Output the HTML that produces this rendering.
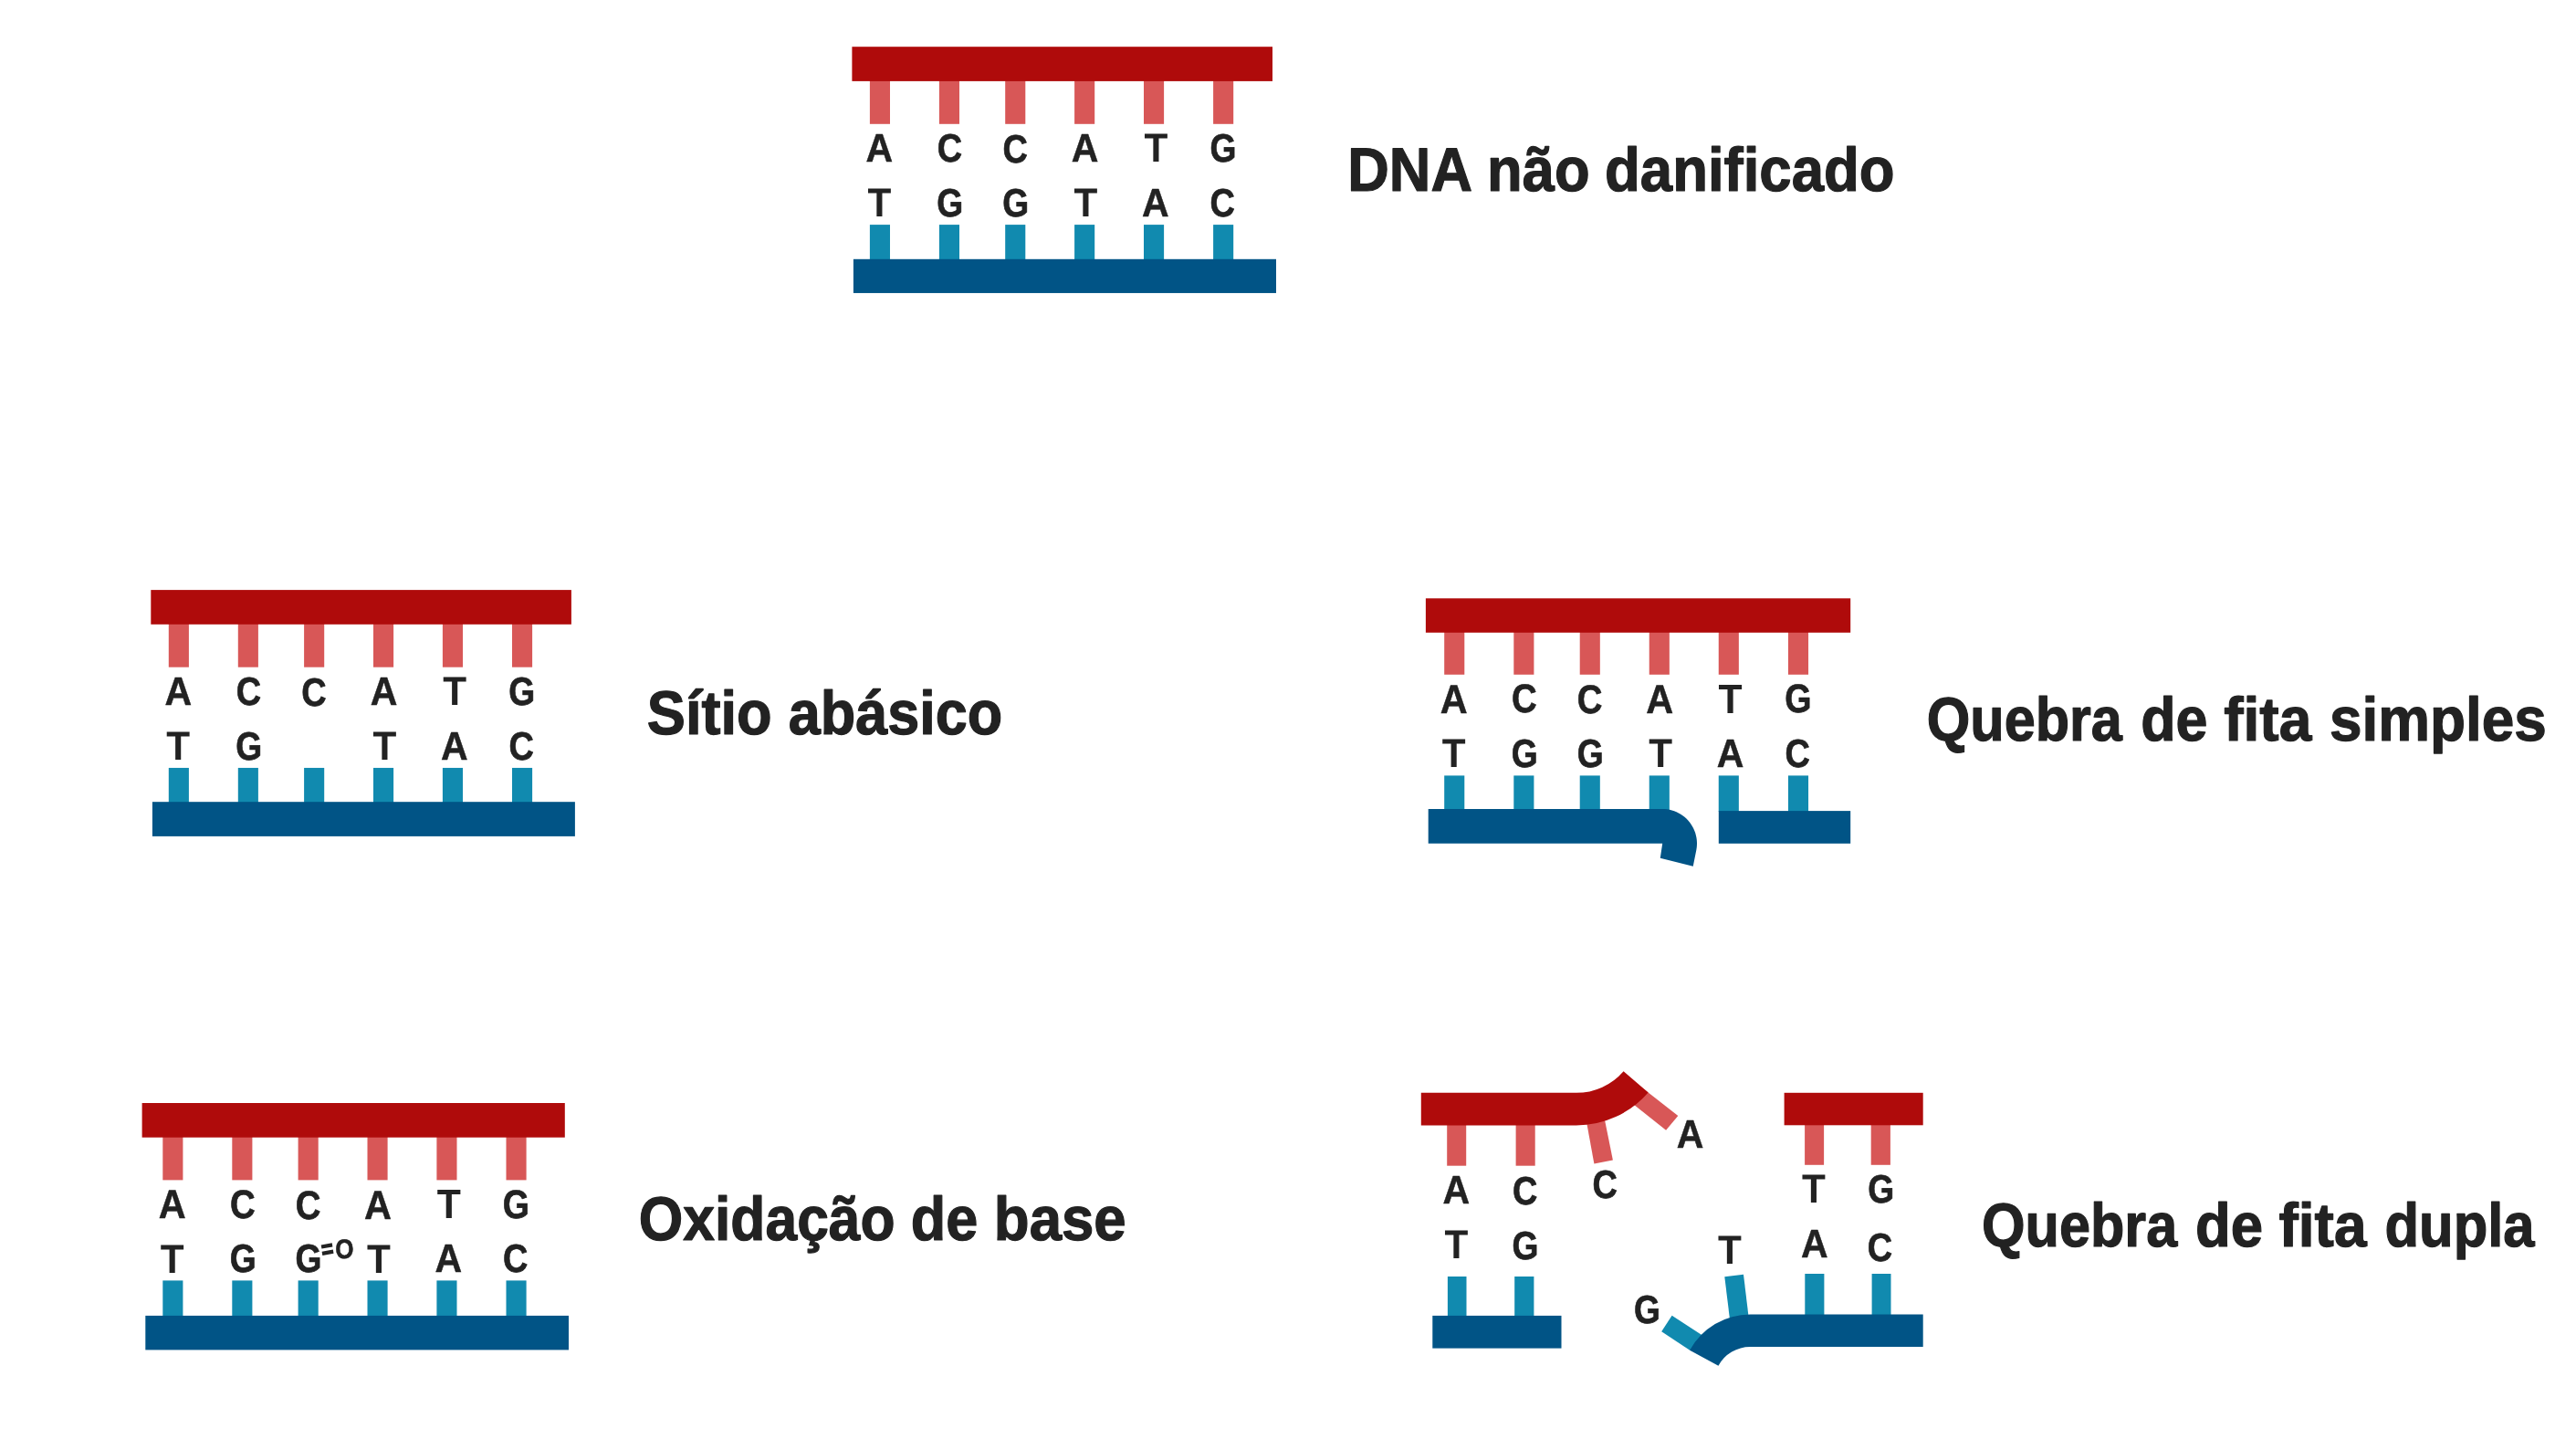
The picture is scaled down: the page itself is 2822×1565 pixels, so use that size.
<!DOCTYPE html>
<html lang="pt"><head><meta charset="utf-8"><title>Tipos de dano no DNA</title>
<style>
html,body{margin:0;padding:0;background:#fff;}
body{width:2822px;height:1565px;overflow:hidden;}
svg{display:block;will-change:transform;}
text{font-family:"Liberation Sans",sans-serif;font-weight:700;fill:#222222;stroke:#222222;stroke-linejoin:round;text-rendering:geometricPrecision;}
</style></head><body>
<svg width="2822" height="1565" viewBox="0 0 2822 1565">
<rect x="0" y="0" width="2822" height="1565" fill="#ffffff"/>
<rect x="952.90" y="87.90" width="22.10" height="47.90" fill="#D85757"/>
<rect x="952.90" y="246.10" width="22.10" height="38.70" fill="#118AAF"/>
<rect x="1028.90" y="87.90" width="22.10" height="47.90" fill="#D85757"/>
<rect x="1028.90" y="246.10" width="22.10" height="38.70" fill="#118AAF"/>
<rect x="1101.20" y="87.90" width="22.10" height="47.90" fill="#D85757"/>
<rect x="1101.20" y="246.10" width="22.10" height="38.70" fill="#118AAF"/>
<rect x="1177.10" y="87.90" width="22.10" height="47.90" fill="#D85757"/>
<rect x="1177.10" y="246.10" width="22.10" height="38.70" fill="#118AAF"/>
<rect x="1253.00" y="87.90" width="22.10" height="47.90" fill="#D85757"/>
<rect x="1253.00" y="246.10" width="22.10" height="38.70" fill="#118AAF"/>
<rect x="1329.10" y="87.90" width="22.10" height="47.90" fill="#D85757"/>
<rect x="1329.10" y="246.10" width="22.10" height="38.70" fill="#118AAF"/>
<rect x="933.40" y="51.20" width="460.60" height="37.70" fill="#AF0B0B"/>
<rect x="934.90" y="283.80" width="463.10" height="37.15" fill="#015486"/>
<text transform="translate(963.35,176.95) rotate(0.02) scale(0.9411,1)" x="-15.71" y="0" font-size="43.6" stroke-width="0.5">A</text>
<text transform="translate(1040.70,176.85) rotate(0.02) scale(0.8754,1)" x="-15.93" y="0" font-size="43.31" stroke-width="0.7">C</text>
<text transform="translate(1112.40,177.75) rotate(0.02) scale(0.8754,1)" x="-15.93" y="0" font-size="43.31" stroke-width="0.7">C</text>
<text transform="translate(1188.60,177.35) rotate(0.02) scale(0.9411,1)" x="-15.71" y="0" font-size="43.6" stroke-width="0.5">A</text>
<text transform="translate(1266.30,177.20) rotate(0.02) scale(0.9539,1)" x="-13.55" y="0" font-size="44.33" stroke-width="0.0">T</text>
<text transform="translate(1339.50,176.85) rotate(0.02) scale(0.8588,1)" x="-16.39" y="0" font-size="43.31" stroke-width="0.7">G</text>
<text transform="translate(963.30,237.00) rotate(0.02) scale(0.9539,1)" x="-13.55" y="0" font-size="44.33" stroke-width="0.0">T</text>
<text transform="translate(1040.30,236.65) rotate(0.02) scale(0.8588,1)" x="-16.39" y="0" font-size="43.31" stroke-width="0.7">G</text>
<text transform="translate(1112.20,236.65) rotate(0.02) scale(0.8588,1)" x="-16.39" y="0" font-size="43.31" stroke-width="0.7">G</text>
<text transform="translate(1189.50,237.00) rotate(0.02) scale(0.9539,1)" x="-13.55" y="0" font-size="44.33" stroke-width="0.0">T</text>
<text transform="translate(1265.80,236.75) rotate(0.02) scale(0.9411,1)" x="-15.71" y="0" font-size="43.6" stroke-width="0.5">A</text>
<text transform="translate(1339.50,236.65) rotate(0.02) scale(0.8754,1)" x="-15.93" y="0" font-size="43.31" stroke-width="0.7">C</text>
<rect x="184.80" y="682.80" width="22.10" height="47.90" fill="#D85757"/>
<rect x="184.80" y="840.95" width="22.10" height="38.25" fill="#118AAF"/>
<rect x="260.80" y="682.80" width="22.10" height="47.90" fill="#D85757"/>
<rect x="260.80" y="840.95" width="22.10" height="38.25" fill="#118AAF"/>
<rect x="333.10" y="682.80" width="22.10" height="47.90" fill="#D85757"/>
<rect x="333.10" y="840.95" width="22.10" height="38.25" fill="#118AAF"/>
<rect x="409.00" y="682.80" width="22.10" height="47.90" fill="#D85757"/>
<rect x="409.00" y="840.95" width="22.10" height="38.25" fill="#118AAF"/>
<rect x="484.90" y="682.80" width="22.10" height="47.90" fill="#D85757"/>
<rect x="484.90" y="840.95" width="22.10" height="38.25" fill="#118AAF"/>
<rect x="561.00" y="682.80" width="22.10" height="47.90" fill="#D85757"/>
<rect x="561.00" y="840.95" width="22.10" height="38.25" fill="#118AAF"/>
<rect x="165.30" y="646.10" width="460.60" height="37.70" fill="#AF0B0B"/>
<rect x="166.90" y="878.20" width="463.00" height="37.70" fill="#015486"/>
<text transform="translate(195.25,771.85) rotate(0.02) scale(0.9411,1)" x="-15.71" y="0" font-size="43.6" stroke-width="0.5">A</text>
<text transform="translate(272.60,771.75) rotate(0.02) scale(0.8754,1)" x="-15.93" y="0" font-size="43.31" stroke-width="0.7">C</text>
<text transform="translate(344.30,772.65) rotate(0.02) scale(0.8754,1)" x="-15.93" y="0" font-size="43.31" stroke-width="0.7">C</text>
<text transform="translate(420.50,772.25) rotate(0.02) scale(0.9411,1)" x="-15.71" y="0" font-size="43.6" stroke-width="0.5">A</text>
<text transform="translate(498.20,772.10) rotate(0.02) scale(0.9539,1)" x="-13.55" y="0" font-size="44.33" stroke-width="0.0">T</text>
<text transform="translate(571.40,771.75) rotate(0.02) scale(0.8588,1)" x="-16.39" y="0" font-size="43.31" stroke-width="0.7">G</text>
<text transform="translate(195.20,831.90) rotate(0.02) scale(0.9539,1)" x="-13.55" y="0" font-size="44.33" stroke-width="0.0">T</text>
<text transform="translate(272.20,831.55) rotate(0.02) scale(0.8588,1)" x="-16.39" y="0" font-size="43.31" stroke-width="0.7">G</text>
<text transform="translate(421.40,831.90) rotate(0.02) scale(0.9539,1)" x="-13.55" y="0" font-size="44.33" stroke-width="0.0">T</text>
<text transform="translate(497.70,831.65) rotate(0.02) scale(0.9411,1)" x="-15.71" y="0" font-size="43.6" stroke-width="0.5">A</text>
<text transform="translate(571.40,831.55) rotate(0.02) scale(0.8754,1)" x="-15.93" y="0" font-size="43.31" stroke-width="0.7">C</text>
<rect x="178.30" y="1244.70" width="22.10" height="47.70" fill="#D85757"/>
<rect x="178.30" y="1402.40" width="22.10" height="39.50" fill="#118AAF"/>
<rect x="254.30" y="1244.70" width="22.10" height="47.70" fill="#D85757"/>
<rect x="254.30" y="1402.40" width="22.10" height="39.50" fill="#118AAF"/>
<rect x="326.60" y="1244.70" width="22.10" height="47.70" fill="#D85757"/>
<rect x="326.60" y="1402.40" width="22.10" height="39.50" fill="#118AAF"/>
<rect x="402.50" y="1244.70" width="22.10" height="47.70" fill="#D85757"/>
<rect x="402.50" y="1402.40" width="22.10" height="39.50" fill="#118AAF"/>
<rect x="478.40" y="1244.70" width="22.10" height="47.70" fill="#D85757"/>
<rect x="478.40" y="1402.40" width="22.10" height="39.50" fill="#118AAF"/>
<rect x="554.50" y="1244.70" width="22.10" height="47.70" fill="#D85757"/>
<rect x="554.50" y="1402.40" width="22.10" height="39.50" fill="#118AAF"/>
<rect x="155.60" y="1208.00" width="463.20" height="37.70" fill="#AF0B0B"/>
<rect x="159.30" y="1440.90" width="463.70" height="37.50" fill="#015486"/>
<text transform="translate(188.75,1334.20) rotate(0.02) scale(0.9347,1)" x="-15.99" y="0" font-size="44.36" stroke-width="0.5">A</text>
<text transform="translate(266.10,1334.10) rotate(0.02) scale(0.8694,1)" x="-16.21" y="0" font-size="44.07" stroke-width="0.7">C</text>
<text transform="translate(337.80,1335.00) rotate(0.02) scale(0.8694,1)" x="-16.21" y="0" font-size="44.07" stroke-width="0.7">C</text>
<text transform="translate(414.00,1334.60) rotate(0.02) scale(0.9347,1)" x="-15.99" y="0" font-size="44.36" stroke-width="0.5">A</text>
<text transform="translate(491.70,1334.45) rotate(0.02) scale(0.9473,1)" x="-13.78" y="0" font-size="45.09" stroke-width="0.0">T</text>
<text transform="translate(564.90,1334.10) rotate(0.02) scale(0.8529,1)" x="-16.68" y="0" font-size="44.07" stroke-width="0.7">G</text>
<text transform="translate(188.70,1393.55) rotate(0.02) scale(0.9539,1)" x="-13.55" y="0" font-size="44.33" stroke-width="0.0">T</text>
<text transform="translate(265.70,1393.20) rotate(0.02) scale(0.8588,1)" x="-16.39" y="0" font-size="43.31" stroke-width="0.7">G</text>
<text transform="translate(337.60,1393.20) rotate(0.02) scale(0.8588,1)" x="-16.39" y="0" font-size="43.31" stroke-width="0.7">G</text>
<text transform="translate(414.90,1393.55) rotate(0.02) scale(0.9539,1)" x="-13.55" y="0" font-size="44.33" stroke-width="0.0">T</text>
<text transform="translate(491.20,1393.30) rotate(0.02) scale(0.9411,1)" x="-15.71" y="0" font-size="43.6" stroke-width="0.5">A</text>
<text transform="translate(564.90,1393.20) rotate(0.02) scale(0.8754,1)" x="-15.93" y="0" font-size="43.31" stroke-width="0.7">C</text>
<polygon points="351.70,1363.40 363.70,1361.30 364.40,1365.50 352.40,1367.60" fill="#222222"/>
<polygon points="352.60,1370.80 364.80,1368.60 365.50,1372.80 353.30,1375.00" fill="#222222"/>
<text transform="translate(377.40,1378.30) rotate(0.02) scale(0.8773,1)" x="-11.52" y="0" font-size="29.65" stroke-width="0.6">O</text>
<rect x="1582.20" y="691.80" width="22.10" height="47.00" fill="#D85757"/>
<rect x="1582.20" y="849.40" width="22.10" height="37.60" fill="#118AAF"/>
<rect x="1658.31" y="691.80" width="22.10" height="47.00" fill="#D85757"/>
<rect x="1658.31" y="849.40" width="22.10" height="37.60" fill="#118AAF"/>
<rect x="1730.72" y="691.80" width="22.10" height="47.00" fill="#D85757"/>
<rect x="1730.72" y="849.40" width="22.10" height="37.60" fill="#118AAF"/>
<rect x="1806.74" y="691.80" width="22.10" height="47.00" fill="#D85757"/>
<rect x="1806.74" y="849.40" width="22.10" height="40.60" fill="#118AAF"/>
<rect x="1882.75" y="691.80" width="22.10" height="47.00" fill="#D85757"/>
<rect x="1882.75" y="849.40" width="22.10" height="39.60" fill="#118AAF"/>
<rect x="1958.96" y="691.80" width="22.10" height="47.00" fill="#D85757"/>
<rect x="1958.96" y="849.40" width="22.10" height="39.60" fill="#118AAF"/>
<rect x="1561.90" y="655.30" width="465.30" height="37.50" fill="#AF0B0B"/>
<text transform="translate(1592.65,780.55) rotate(0.02) scale(0.9347,1)" x="-15.99" y="0" font-size="44.36" stroke-width="0.5">A</text>
<text transform="translate(1670.11,780.45) rotate(0.02) scale(0.8694,1)" x="-16.21" y="0" font-size="44.07" stroke-width="0.7">C</text>
<text transform="translate(1741.92,781.35) rotate(0.02) scale(0.8694,1)" x="-16.21" y="0" font-size="44.07" stroke-width="0.7">C</text>
<text transform="translate(1818.24,780.95) rotate(0.02) scale(0.9347,1)" x="-15.99" y="0" font-size="44.36" stroke-width="0.5">A</text>
<text transform="translate(1895.55,780.80) rotate(0.02) scale(0.9473,1)" x="-13.78" y="0" font-size="45.09" stroke-width="0.0">T</text>
<text transform="translate(1969.36,780.45) rotate(0.02) scale(0.8529,1)" x="-16.68" y="0" font-size="44.07" stroke-width="0.7">G</text>
<text transform="translate(1592.60,839.95) rotate(0.02) scale(0.9539,1)" x="-13.55" y="0" font-size="44.33" stroke-width="0.0">T</text>
<text transform="translate(1669.71,839.60) rotate(0.02) scale(0.8588,1)" x="-16.39" y="0" font-size="43.31" stroke-width="0.7">G</text>
<text transform="translate(1741.72,839.60) rotate(0.02) scale(0.8588,1)" x="-16.39" y="0" font-size="43.31" stroke-width="0.7">G</text>
<text transform="translate(1819.14,839.95) rotate(0.02) scale(0.9539,1)" x="-13.55" y="0" font-size="44.33" stroke-width="0.0">T</text>
<text transform="translate(1895.55,839.70) rotate(0.02) scale(0.9411,1)" x="-15.71" y="0" font-size="43.6" stroke-width="0.5">A</text>
<text transform="translate(1969.36,839.60) rotate(0.02) scale(0.8754,1)" x="-15.93" y="0" font-size="43.31" stroke-width="0.7">C</text>
<polygon points="1564.70,886.00 1821.20,886.00 1821.20,886.00 1823.84,886.09 1826.46,886.37 1829.06,886.83 1831.62,887.46 1834.13,888.28 1836.57,889.27 1838.95,890.42 1841.23,891.74 1843.42,893.22 1845.50,894.84 1847.46,896.61 1849.29,898.51 1850.99,900.53 1852.54,902.66 1853.94,904.90 1855.17,907.23 1856.25,909.64 1857.15,912.12 1857.88,914.66 1858.43,917.24 1858.79,919.85 1858.98,922.48 1858.98,925.12 1858.79,927.75 1858.43,930.36 1858.31,931.01 1854.75,948.80 1818.80,939.80 1821.20,923.80 1564.70,923.80" fill="#015486"/>
<rect x="1882.80" y="888.10" width="144.40" height="35.70" fill="#015486"/>
<rect x="1585.20" y="1231.00" width="21.00" height="45.70" fill="#D85757"/>
<rect x="1660.60" y="1231.00" width="21.10" height="45.70" fill="#D85757"/>
<polygon points="1737.19,1224.04 1756.69,1219.94 1766.90,1270.60 1746.40,1274.60" fill="#D85757"/>
<polygon points="1785.11,1206.05 1799.26,1191.45 1838.30,1221.90 1825.10,1237.80" fill="#D85757"/>
<path d="M1556.8,1214.7 H1726.8 A86.3,86.3 0 0 0 1792.1,1184.8" fill="none" stroke="#AF0B0B" stroke-width="35.7"/>
<rect x="1977.10" y="1231.00" width="21.00" height="44.80" fill="#D85757"/>
<rect x="2049.70" y="1231.00" width="21.20" height="44.80" fill="#D85757"/>
<rect x="1954.60" y="1196.80" width="152.10" height="35.50" fill="#AF0B0B"/>
<rect x="1585.90" y="1398.00" width="20.60" height="44.00" fill="#118AAF"/>
<rect x="1659.20" y="1398.00" width="21.20" height="44.00" fill="#118AAF"/>
<rect x="1569.30" y="1440.90" width="141.20" height="35.70" fill="#015486"/>
<rect x="1977.30" y="1395.00" width="21.10" height="46.00" fill="#118AAF"/>
<rect x="2050.60" y="1395.00" width="20.90" height="46.00" fill="#118AAF"/>
<polygon points="1895.61,1449.94 1916.16,1447.04 1910.00,1395.70 1889.30,1398.20" fill="#118AAF"/>
<polygon points="1820.20,1458.20 1831.60,1440.75 1870.00,1465.65 1858.00,1480.60 1851.20,1478.80" fill="#118AAF"/>
<path d="M2106.7,1457.2 H1917.4 A57.6,57.6 0 0 0 1866.8,1487.25" fill="none" stroke="#015486" stroke-width="35.65"/>
<text transform="translate(1595.40,1318.05) rotate(0.02) scale(0.9411,1)" x="-15.71" y="0" font-size="43.6" stroke-width="0.5">A</text>
<text transform="translate(1670.90,1319.45) rotate(0.02) scale(0.8754,1)" x="-15.93" y="0" font-size="43.31" stroke-width="0.7">C</text>
<text transform="translate(1758.50,1312.45) rotate(0.02) scale(0.8754,1)" x="-15.93" y="0" font-size="43.31" stroke-width="0.7">C</text>
<text transform="translate(1851.50,1256.65) rotate(0.02) scale(0.9411,1)" x="-15.71" y="0" font-size="43.6" stroke-width="0.5">A</text>
<text transform="translate(1986.90,1317.20) rotate(0.02) scale(0.9539,1)" x="-13.55" y="0" font-size="44.33" stroke-width="0.0">T</text>
<text transform="translate(2060.20,1317.15) rotate(0.02) scale(0.8588,1)" x="-16.39" y="0" font-size="43.31" stroke-width="0.7">G</text>
<text transform="translate(1595.50,1377.70) rotate(0.02) scale(0.9539,1)" x="-13.55" y="0" font-size="44.33" stroke-width="0.0">T</text>
<text transform="translate(1670.60,1379.15) rotate(0.02) scale(0.8588,1)" x="-16.39" y="0" font-size="43.31" stroke-width="0.7">G</text>
<text transform="translate(1804.05,1449.05) rotate(0.02) scale(0.8588,1)" x="-16.39" y="0" font-size="43.31" stroke-width="0.7">G</text>
<text transform="translate(1895.00,1383.90) rotate(0.02) scale(0.9539,1)" x="-13.55" y="0" font-size="44.33" stroke-width="0.0">T</text>
<text transform="translate(1987.90,1376.65) rotate(0.02) scale(0.9411,1)" x="-15.71" y="0" font-size="43.6" stroke-width="0.5">A</text>
<text transform="translate(2059.80,1380.95) rotate(0.02) scale(0.8754,1)" x="-15.93" y="0" font-size="43.31" stroke-width="0.7">C</text>
<text transform="translate(1479.90,208.90) rotate(0.02) scale(0.9338,1)" x="-3.91" y="0" font-size="67.59" stroke-width="1.2">DNA</text>
<text transform="translate(1632.70,208.90) rotate(0.02) scale(0.9362,1)" x="-3.88" y="0" font-size="67.59" stroke-width="1.2">não</text>
<text transform="translate(1760.10,208.90) rotate(0.02) scale(0.9395,1)" x="-2.16" y="0" font-size="67.59" stroke-width="1.2">danificado</text>
<text transform="translate(710.20,803.70) rotate(0.02) scale(0.9349,1)" x="-1.54" y="0" font-size="67.59" stroke-width="1.2">Sítio</text>
<text transform="translate(865.10,803.70) rotate(0.02) scale(0.9320,1)" x="-1.44" y="0" font-size="67.59" stroke-width="1.2">abásico</text>
<text transform="translate(701.80,1358.20) rotate(0.02) scale(0.9232,1)" x="-2.16" y="0" font-size="67.59" stroke-width="1.2">Oxidação</text>
<text transform="translate(999.70,1358.20) rotate(0.02) scale(0.9314,1)" x="-2.16" y="0" font-size="67.59" stroke-width="1.2">de</text>
<text transform="translate(1092.50,1358.20) rotate(0.02) scale(0.9403,1)" x="-3.87" y="0" font-size="67.59" stroke-width="1.2">base</text>
<text transform="translate(2112.70,810.70) rotate(0.02) scale(0.9051,1)" x="-2.16" y="0" font-size="67.59" stroke-width="1.2">Quebra</text>
<text transform="translate(2347.20,810.70) rotate(0.02) scale(0.9288,1)" x="-2.16" y="0" font-size="67.59" stroke-width="1.2">de</text>
<text transform="translate(2436.70,810.70) rotate(0.02) scale(0.9490,1)" x="-0.56" y="0" font-size="67.59" stroke-width="1.2">fita</text>
<text transform="translate(2553.80,810.70) rotate(0.02) scale(0.9451,1)" x="-1.89" y="0" font-size="67.59" stroke-width="1.2">simples</text>
<text transform="translate(2173.00,1365.00) rotate(0.02) scale(0.9051,1)" x="-2.16" y="0" font-size="67.59" stroke-width="1.2">Quebra</text>
<text transform="translate(2407.00,1365.00) rotate(0.02) scale(0.9395,1)" x="-2.16" y="0" font-size="67.59" stroke-width="1.2">de</text>
<text transform="translate(2497.00,1365.00) rotate(0.02) scale(0.9480,1)" x="-0.56" y="0" font-size="67.59" stroke-width="1.2">fita</text>
<text transform="translate(2614.40,1365.00) rotate(0.02) scale(0.9109,1)" x="-2.16" y="0" font-size="67.59" stroke-width="1.2">dupla</text>
</svg>
</body></html>
